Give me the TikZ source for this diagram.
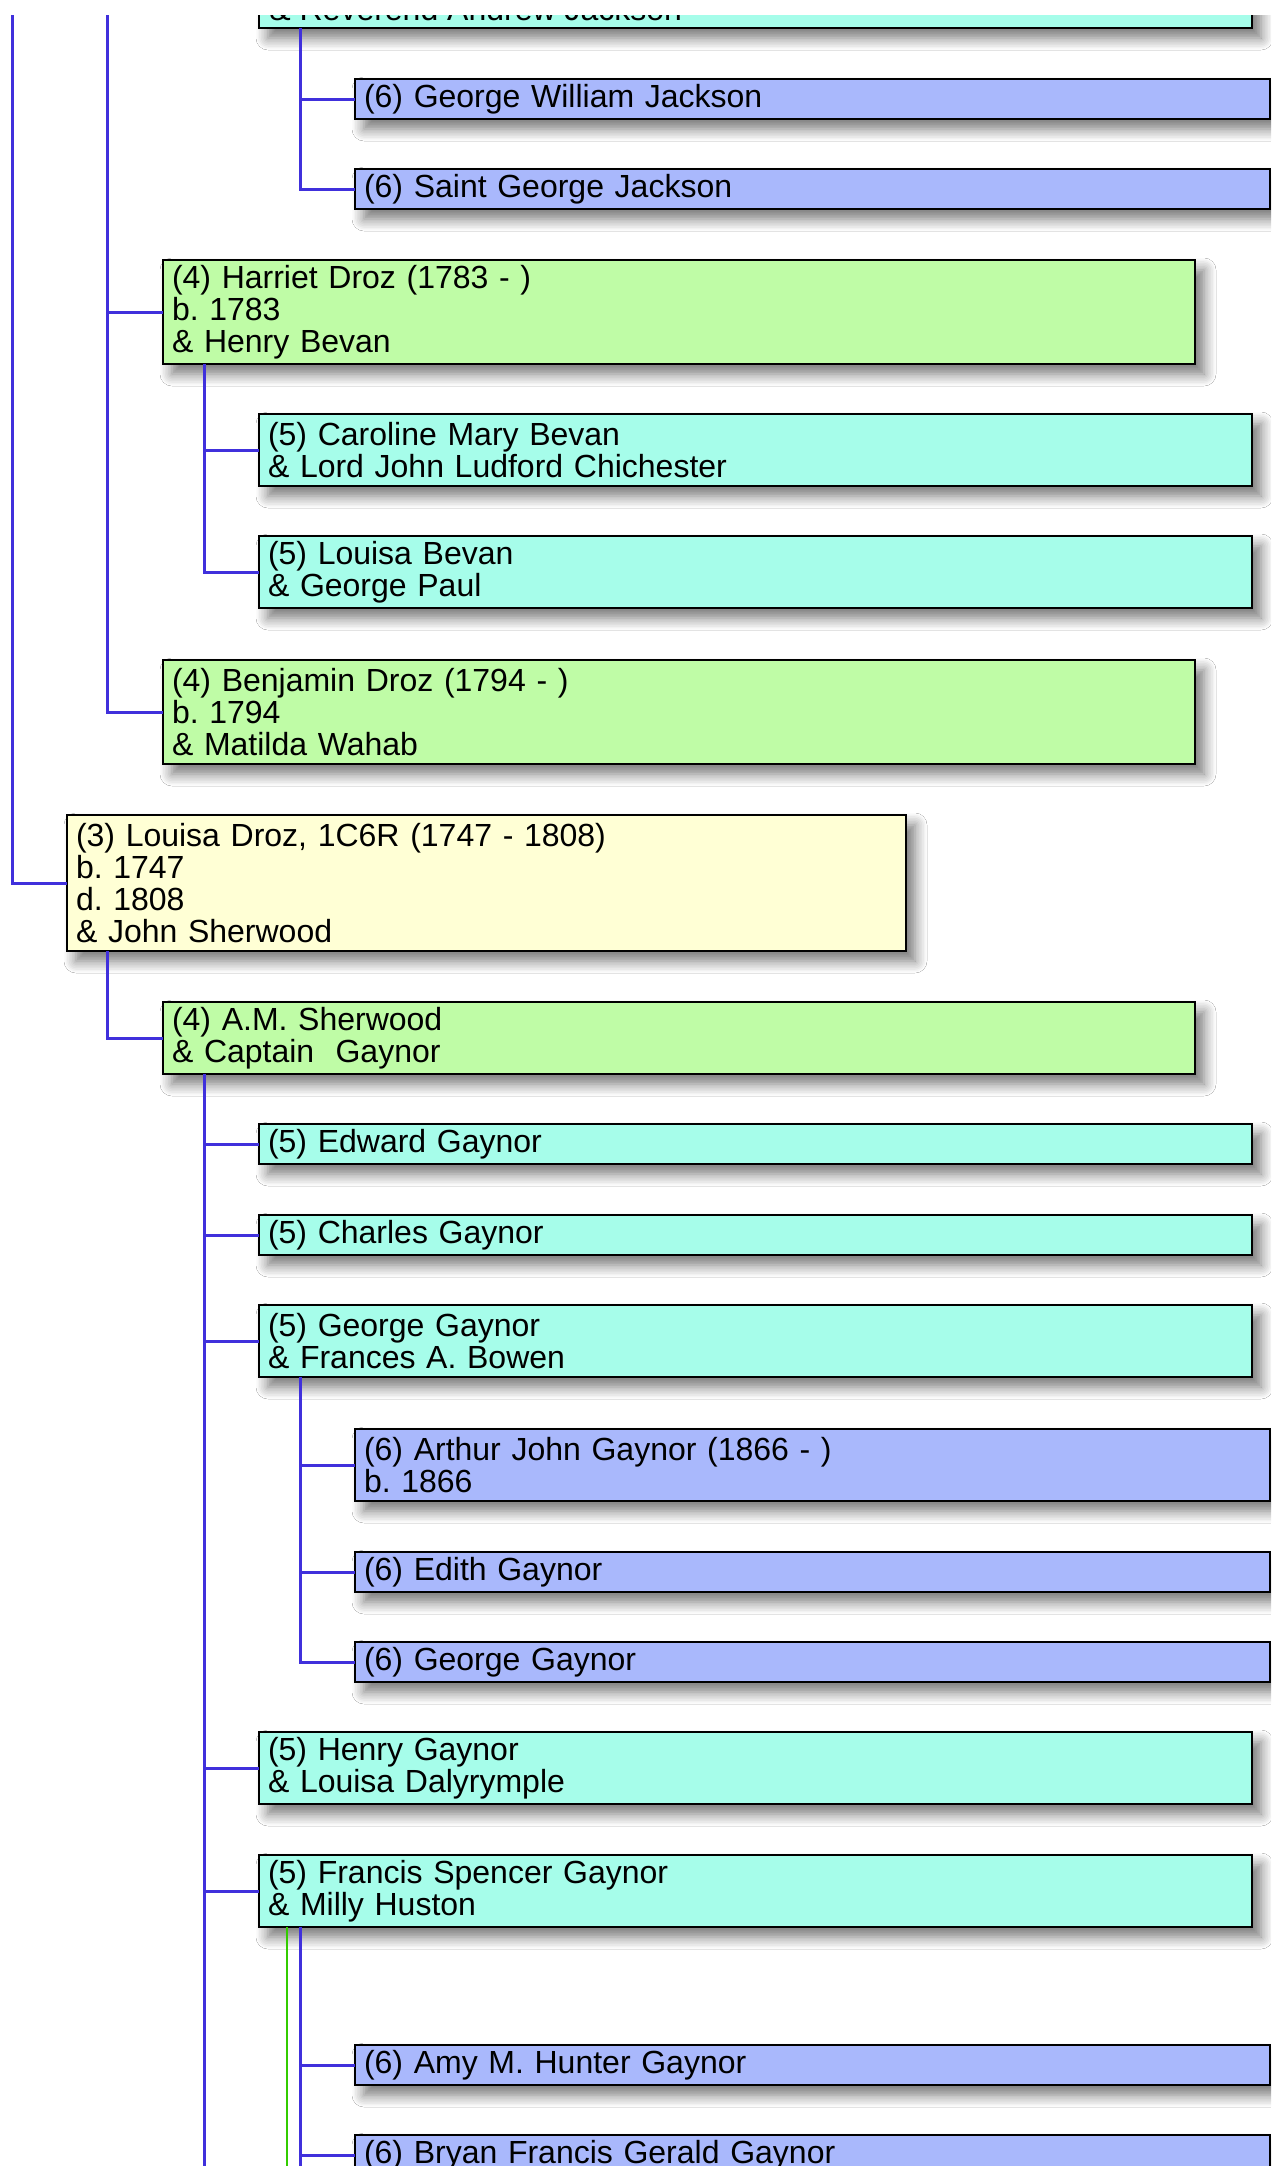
\documentclass[tikz,border=0pt]{standalone}
\usepackage{fontspec}
\setmainfont{Liberation Sans}
\usetikzlibrary{shadows.blur}
\frenchspacing

\definecolor{genthree}{RGB}{255,255,213}
\definecolor{genfour}{RGB}{191,252,166}
\definecolor{genfive}{RGB}{166,253,234}
\definecolor{gensix}{RGB}{169,184,252}
\definecolor{linkblue}{RGB}{64,48,220}
\definecolor{linkgreen}{RGB}{51,204,0}

\tikzset{
  person/.style={rectangle, draw=black, line width=1.4pt, anchor=north west,
    outer sep=0pt, inner xsep=4.5pt, inner ysep=0pt, align=left,
    font=\fontsize{16pt}{15.9pt}\selectfont,
    blur shadow={shadow xshift=4.5pt, shadow yshift=-5pt, shadow blur radius=6pt, shadow blur steps=8, shadow opacity=55}},
  nrows/.style={minimum height={#1*16pt+4pt}},
  lvlthree/.style={person, fill=genthree, text width=410.5pt},
  lvlfour/.style={person, fill=genfour, text width=507pt},
  lvlfive/.style={person, fill=genfive, text width=487.5pt},
  lvlsix/.style={person, fill=gensix, text width=448.5pt},
  link/.style={draw=linkblue, line width=1.5pt},
  spouse/.style={draw=linkgreen, line width=1pt}
}

\begin{document}
\begin{tikzpicture}[x=0.5pt,y=-0.5pt]
\useasboundingbox[fill=white] (0,0) rectangle (1271,2179);
\begin{scope}
\clip (0,15) rectangle (1271,2165);

% boxes, generation 3 to 6
\node[lvlfive, nrows=2] (topfive) at (259,-44) {};
\node[anchor=base west, inner sep=0pt, font=\fontsize{16pt}{15.9pt}\selectfont] (toptext)
  at ([xshift=5pt,yshift=4pt]topfive.south west) {\& Reverend Andrew Jackson};
\node[lvlsix, nrows=1] (gwjackson) at (355,79) {(6) George William Jackson};
\node[lvlsix, nrows=1] (sgjackson) at (355,169) {(6) Saint George Jackson};

\node[lvlfour, nrows=3] (harriet) at (163,260) {(4) Harriet Droz (1783 - )\\b. 1783\\\& Henry Bevan};
\node[lvlfive, nrows=2] (caroline) at (259,414) {(5) Caroline Mary Bevan\\\& Lord John Ludford Chichester};
\node[lvlfive, nrows=2] (lbevan) at (259,536) {(5) Louisa Bevan\\\& George Paul};
\node[lvlfour, nrows=3] (benjamin) at (163,660) {(4) Benjamin Droz (1794 - )\\b. 1794\\\& Matilda Wahab};

\node[lvlthree, nrows=4] (louisa) at (67,815) {(3) Louisa Droz, 1C6R (1747 - 1808)\\b. 1747\\d. 1808\\\& John Sherwood};
\node[lvlfour, nrows=2] (amsherwood) at (163,1002) {(4) A.M. Sherwood\\\& Captain\ \ Gaynor};

\node[lvlfive, nrows=1] (edward) at (259,1124) {(5) Edward Gaynor};
\node[lvlfive, nrows=1] (charles) at (259,1215) {(5) Charles Gaynor};
\node[lvlfive, nrows=2] (georgefive) at (259,1305) {(5) George Gaynor\\\& Frances A. Bowen};
\node[lvlsix, nrows=2] (arthur) at (355,1429) {(6) Arthur John Gaynor (1866 - )\\b. 1866};
\node[lvlsix, nrows=1] (edith) at (355,1552) {(6) Edith Gaynor};
\node[lvlsix, nrows=1] (georgesix) at (355,1642) {(6) George Gaynor};
\node[lvlfive, nrows=2] (henry) at (259,1732) {(5) Henry Gaynor\\\& Louisa Dalyrymple};
\node[lvlfive, nrows=2] (francis) at (259,1855) {(5) Francis Spencer Gaynor\\\& Milly Huston};
\node[lvlsix, nrows=1] (amy) at (355,2045) {(6) Amy M. Hunter Gaynor};
\node[lvlsix, nrows=1] (bryan) at (355,2135) {(6) Bryan Francis Gerald Gaynor};

% lines from parents out of view
\coordinate (gentwotop) at (12,-60);
\coordinate (genthreetop) at (107,-60);
\coordinate (amend) at (204,2220);
\coordinate (francisend) at (300,2220);
\coordinate (greenend) at (287,2220);

\draw[link] (gentwotop) |- (louisa.west);
\draw[link] (genthreetop) |- (harriet.west);
\draw[link] (genthreetop) |- (benjamin.west);

\foreach \kid in {gwjackson,sgjackson}
  \draw[link] ([xshift=20.5pt]topfive.south west) |- (\kid.west);
\foreach \kid in {caroline,lbevan}
  \draw[link] ([xshift=20.5pt]harriet.south west) |- (\kid.west);
\draw[link] ([xshift=20pt]louisa.south west) |- (amsherwood.west);
\foreach \kid in {edward,charles,georgefive,henry,francis}
  \draw[link] ([xshift=20.5pt]amsherwood.south west) |- (\kid.west);
\draw[link] ([xshift=20.5pt]amsherwood.south west) -- (amend);
\foreach \kid in {arthur,edith,georgesix}
  \draw[link] ([xshift=20.5pt]georgefive.south west) |- (\kid.west);
\foreach \kid in {amy,bryan}
  \draw[link] ([xshift=20.5pt]francis.south west) |- (\kid.west);
\draw[link] ([xshift=20.5pt]francis.south west) -- (francisend);
\draw[spouse] ([xshift=14pt]francis.south west) -- (greenend);

\end{scope}
\end{tikzpicture}
\end{document}
